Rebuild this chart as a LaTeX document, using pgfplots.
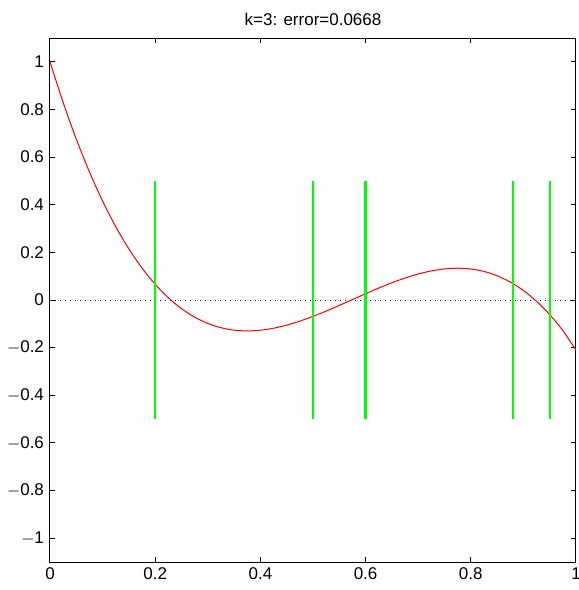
\documentclass[border=0pt]{standalone}
\usepackage{fontspec}
\setmainfont{Liberation Sans}
\usepackage{pgfplots}
\pgfplotsset{compat=1.18}
\begin{document}
\fontsize{8.5}{10}\selectfont
\begin{tikzpicture}
\useasboundingbox (-25pt,-14pt) rectangle (264.5pt,281pt);
\begin{axis}[
  at={(0,0)}, anchor=south west,
  scale only axis, width=263pt, height=262pt,
  xmin=0, xmax=1, ymin=-1.1, ymax=1.1,
  xtick={0,0.2,0.4,0.6,0.8,1},
  ytick={-1,-0.8,-0.6,-0.4,-0.2,0,0.2,0.4,0.6,0.8,1},
  xticklabels={0,0.2,0.4,0.6,0.8,1},
  yticklabels={$-$1,$-$0.8,$-$0.6,$-$0.4,$-$0.2,0,0.2,0.4,0.6,0.8,1},
  tick align=inside, major tick length=2.5pt,
  axis line style={line width=0.5pt},
  every tick/.style={black, line width=0.5pt},
  tick label style={font=\fontsize{8.5}{10}\selectfont},
  title={k=3: error=0.0668},
  title style={font=\fontsize{8.5}{10}\selectfont, yshift=-3pt},
  clip=true,
]
\addplot[black, dotted, line width=0.5pt] coordinates {(0,0) (1,0)};
\addplot[red, line width=0.5pt, smooth] coordinates {
(0,1) (0.025,0.82917) (0.05,0.67535) (0.075,0.53773) (0.1,0.41556)
(0.125,0.30806) (0.15,0.21447) (0.175,0.13400) (0.2,0.06590)
(0.225,0.00937) (0.25,-0.03634) (0.275,-0.07202) (0.3,-0.09843)
(0.325,-0.11633) (0.35,-0.12653) (0.375,-0.12979) (0.4,-0.12683)
(0.425,-0.11847) (0.45,-0.10551) (0.475,-0.08864) (0.5,-0.06875)
(0.525,-0.04654) (0.55,-0.02273) (0.575,0.00178) (0.6,0.02639)
(0.625,0.05017) (0.65,0.07242) (0.675,0.09221) (0.7,0.10917)
(0.725,0.12214) (0.75,0.13047) (0.775,0.13338) (0.8,0.13014)
(0.825,0.11992) (0.85,0.10198) (0.875,0.07545) (0.9,0.0399)
(0.925,-0.00551) (0.95,-0.06137) (0.975,-0.12792) (1,-0.211)
};
\addplot[green, line width=0.9pt] coordinates {(0.2,-0.5) (0.2,0.5)};
\addplot[green, line width=0.9pt] coordinates {(0.5,-0.5) (0.5,0.5)};
\addplot[green, line width=1.1pt] coordinates {(0.6,-0.5) (0.6,0.5)};
\addplot[green, line width=0.9pt] coordinates {(0.88,-0.5) (0.88,0.5)};
\addplot[green, line width=0.9pt] coordinates {(0.95,-0.5) (0.95,0.5)};
\end{axis}
\end{tikzpicture}
\end{document}
